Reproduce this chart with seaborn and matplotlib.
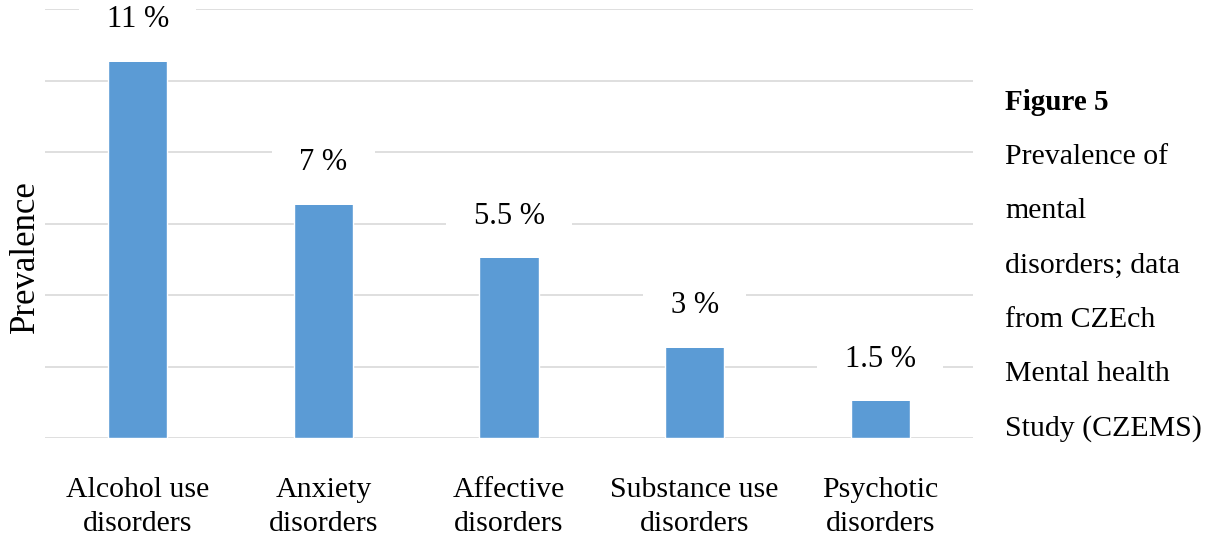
import matplotlib
matplotlib.use("Agg")
import matplotlib.pyplot as plt
import seaborn as sns
import pandas as pd

# Prevalence of mental disorders (CZEMS)
categories = [
    "Alcohol use\ndisorders",
    "Anxiety\ndisorders",
    "Affective\ndisorders",
    "Substance use\ndisorders",
    "Psychotic\ndisorders",
]
prevalence = [11, 7, 5.5, 3, 1.5]
y_ticks = [0, 2, 4, 6, 8, 10, 12]

caption_title = "Figure 5"
caption_lines = [
    "Prevalence of",
    "mental",
    "disorders; data",
    "from CZEch",
    "Mental health",
    "Study (CZEMS)",
]

sns.set_style("white")
plt.rcParams["font.family"] = ["Liberation Serif", "DejaVu Serif"]
plt.rcParams["text.color"] = "black"
plt.rcParams["xtick.color"] = "black"
plt.rcParams["ytick.color"] = "black"

df = pd.DataFrame({"category": categories, "prevalence": prevalence})

fig = plt.figure(figsize=(12.15, 5.39), dpi=100)
ax = fig.add_axes([45 / 1215, 101 / 539, 928 / 1215, 429 / 539])

sns.barplot(data=df, x="category", y="prevalence", color="#5B9BD5",
            saturation=1, width=0.32, ax=ax, zorder=2)

ax.set_ylim(0, 12)
ax.set_yticks(y_ticks)
ax.set_yticklabels([])
ax.yaxis.grid(True, color="#d9d9d9", linewidth=1.2)
ax.set_axisbelow(True)
for s in ax.spines.values():
    s.set_visible(False)
ax.tick_params(axis="both", length=0)
ax.tick_params(axis="x", pad=28, labelsize=21.5)
for lbl in ax.get_xticklabels():
    lbl.set_linespacing(1.42)
ax.set_xlabel("")
ax.set_ylabel("")

# value labels above each bar
for i, v in enumerate(prevalence):
    ax.annotate(f"{v:g} %", xy=(i, v), xytext=(0, 18), textcoords="offset points",
                ha="center", va="center", fontsize=22, zorder=3,
                bbox=dict(boxstyle="square,pad=0.9", facecolor="white", edgecolor="none"))

fig.text(25 / 1215, 1 - 257 / 539, "Prevalence", rotation=90,
         ha="center", va="center", fontsize=25)

# caption to the right of the chart
y0, step = 103, 54.2
fig.text(1005 / 1215, 1 - y0 / 539, caption_title, fontsize=21,
         fontweight="bold", ha="left", va="center")
for k, line in enumerate(caption_lines, start=1):
    fig.text(1005 / 1215, 1 - (y0 + k * step) / 539, line, fontsize=21.5,
             ha="left", va="center")

fig.savefig("out.png", dpi=100, facecolor="white")
